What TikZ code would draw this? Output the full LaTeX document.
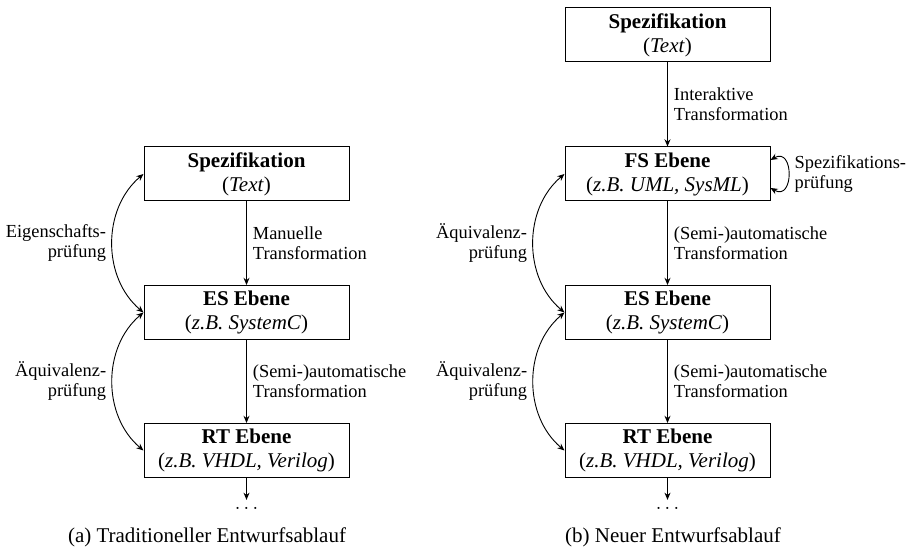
\documentclass[tikz,border=0pt]{standalone}
\usepackage{fontspec}
\setmainfont{Liberation Serif}
\usetikzlibrary{arrows.meta}

\begin{document}
\begin{tikzpicture}[
    x=0.5pt, y=0.5pt, % one unit = one pixel of the sketch
    >={Stealth[length=3.6pt, width=3pt]}, % Set default arrow tip style
    ebene/.style={draw, line width=0.5pt, minimum width=102.5pt, minimum height=27pt,
        inner sep=2pt, align=center, font=\fontsize{10.5}{12}\selectfont}, % level boxes
    flow/.style={->, line width=0.45pt}, % transformation arrows
    check/.style={<->, line width=0.45pt}, % verification arrows
    hint/.style={font=\fontsize{9.2}{10}\selectfont, inner sep=3pt}, % arrow labels
    caption/.style={font=\fontsize{10.5}{12}\selectfont}
]
    \useasboundingbox (0,0) rectangle (911,549);

%    ############# (a) traditional flow
    \node[ebene] (specA) at (246.5,375) {\textbf{Spezifikation}\\(\textit{Text})};
    \node[ebene] (esA) at (246.5,236.5) {\textbf{ES Ebene}\\(\textit{z.B. SystemC})};
    \node[ebene] (rtA) at (246.5,98.5) {\textbf{RT Ebene}\\(\textit{z.B. VHDL, Verilog})};
    \node (dotsA) at (246.5,41) {$\dots$};
    \node[caption] (capA) at (207,12) {(a) Traditioneller Entwurfsablauf};

    \draw[flow] (specA) -- node[hint, right, align=left] {Manuelle\\Transformation} (esA);
    \draw[flow] (esA) -- node[hint, right, align=left] {(Semi-)automatische\\Transformation} (rtA);
    \draw[flow] (rtA) -- (dotsA);

    \draw[check] (specA.west) to[bend right=50] node[hint, left, align=right] {Eigenschafts-\\prüfung} (esA.west);
    \draw[check] (esA.west) to[bend right=50] node[hint, left, align=right] {Äquivalenz-\\prüfung} (rtA.west);

%    ############# (b) new flow
    \node[ebene] (specB) at (667.5,514) {\textbf{Spezifikation}\\(\textit{Text})};
    \node[ebene] (fsB) at (667.5,375) {\textbf{FS Ebene}\\(\textit{z.B. UML, SysML})};
    \node[ebene] (esB) at (667.5,236.5) {\textbf{ES Ebene}\\(\textit{z.B. SystemC})};
    \node[ebene] (rtB) at (667.5,98.5) {\textbf{RT Ebene}\\(\textit{z.B. VHDL, Verilog})};
    \node (dotsB) at (667.5,41) {$\dots$};
    \node[caption] (capB) at (673,12) {(b) Neuer Entwurfsablauf};

    \draw[flow] (specB) -- node[hint, right, align=left] {Interaktive\\Transformation} (fsB);
    \draw[flow] (fsB) -- node[hint, right, align=left] {(Semi-)automatische\\Transformation} (esB);
    \draw[flow] (esB) -- node[hint, right, align=left] {(Semi-)automatische\\Transformation} (rtB);
    \draw[flow] (rtB) -- (dotsB);

    \draw[check] (fsB.west) to[bend right=50] node[hint, left, align=right] {Äquivalenz-\\prüfung} (esB.west);
    \draw[check] (esB.west) to[bend right=50] node[hint, left, align=right] {Äquivalenz-\\prüfung} (rtB.west);
    % self check on the FS level
    \draw[check] ([yshift=7pt]fsB.east) to[out=30, in=-30, looseness=2.5] node[hint, right, align=left] {Spezifikations-\\prüfung} ([yshift=-7pt]fsB.east);
\end{tikzpicture}
\end{document}
